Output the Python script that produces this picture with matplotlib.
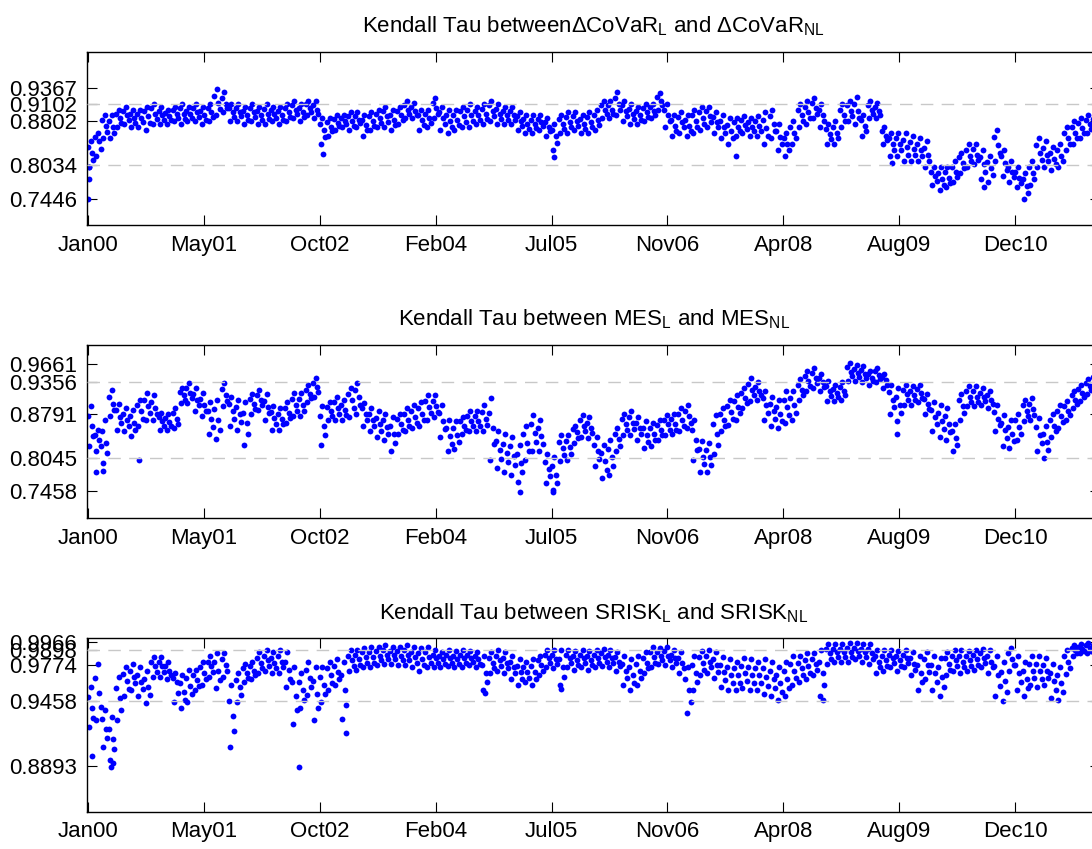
import numpy as np
import pandas as pd
import matplotlib
matplotlib.use('Agg')
from matplotlib import pyplot as plt

plt.rcParams['font.family'] = 'Liberation Sans'
plt.rcParams['mathtext.fontset'] = 'custom'
plt.rcParams['mathtext.rm'] = 'Liberation Sans'
plt.rcParams['mathtext.it'] = 'Liberation Sans'
plt.rcParams['mathtext.default'] = 'regular'

# monthly readings (x 1/1000), Jan 2000 .. Dec 2011, from the top of the cloud (hi) to its bottom (lo)
covar_hi = [845, 860, 890, 890, 900, 905, 900, 900, 905, 910, 905, 900,
            905, 910, 905, 910, 905, 910, 935, 930, 910, 910, 905, 910,
            905, 910, 905, 905, 910, 915, 910, 915, 915, 885, 885, 890,
            890, 895, 895, 890, 895, 900, 905, 900, 905, 915, 912, 900,
            900, 920, 905, 900, 900, 905, 910, 905, 910, 915, 910, 905,
            905, 895, 890, 890, 890, 885, 875, 890, 895, 895, 890, 895,
            900, 915, 915, 930, 915, 910, 905, 910, 910, 928, 910, 890,
            895, 890, 900, 905, 905, 895, 890, 885, 885, 888, 885, 888,
            895, 900, 875, 860, 880, 910, 915, 920, 910, 875, 880, 910,
            915, 922, 890, 915, 912, 870, 860, 860, 860, 855, 850, 845,
            800, 800, 800, 810, 825, 840, 840, 830, 820, 865, 830, 810,
            800, 790, 810, 850, 845, 835, 840, 870, 880, 885, 890, 890]
covar_uq = [835, 853, 882, 880, 893, 898, 893, 892, 897, 902, 898, 894,
            899, 902, 898, 903, 898, 903, 924, 920, 903, 902, 898, 903,
            898, 901, 899, 898, 903, 908, 902, 909, 908, 875, 878, 884,
            885, 888, 889, 882, 888, 893, 897, 891, 898, 908, 905, 891,
            893, 911, 895, 890, 891, 897, 900, 898, 901, 907, 901, 898,
            898, 888, 883, 882, 884, 878, 865, 883, 887, 888, 883, 887,
            891, 908, 907, 920, 907, 901, 898, 903, 904, 921, 900, 881,
            887, 881, 890, 895, 897, 887, 880, 874, 878, 881, 878, 880,
            882, 888, 863, 850, 870, 900, 905, 911, 900, 867, 870, 900,
            907, 910, 881, 908, 905, 862, 850, 850, 848, 844, 840, 834,
            792, 790, 791, 801, 817, 830, 831, 818, 809, 852, 819, 801,
            791, 779, 800, 838, 834, 825, 830, 860, 870, 877, 882, 884]
covar_mid = [825, 845, 872, 870, 885, 890, 885, 885, 888, 893, 890, 888,
             893, 893, 892, 895, 890, 895, 912, 910, 895, 895, 890, 895,
             890, 892, 892, 890, 895, 900, 895, 902, 900, 865, 870, 877,
             880, 880, 882, 873, 880, 885, 888, 882, 890, 900, 898, 882,
             885, 902, 885, 880, 882, 888, 890, 890, 892, 898, 892, 890,
             890, 880, 875, 875, 878, 870, 855, 875, 878, 880, 875, 878,
             882, 900, 900, 910, 898, 892, 890, 895, 898, 914, 890, 872,
             878, 872, 880, 885, 888, 878, 870, 862, 870, 874, 870, 872,
             868, 875, 852, 840, 860, 890, 895, 902, 890, 858, 860, 890,
             898, 898, 872, 900, 898, 855, 840, 840, 835, 832, 830, 822,
             785, 780, 782, 792, 808, 820, 822, 805, 798, 838, 808, 792,
             782, 768, 790, 825, 822, 815, 820, 850, 860, 868, 875, 878]
covar_lq = [812, 832, 861, 860, 877, 882, 877, 878, 876, 884, 882, 881,
            886, 884, 886, 887, 882, 887, 901, 902, 887, 888, 882, 887,
            882, 883, 886, 882, 887, 892, 887, 896, 892, 852, 862, 871,
            875, 872, 876, 864, 872, 877, 879, 873, 882, 892, 891, 873,
            877, 893, 875, 870, 873, 879, 880, 882, 883, 889, 883, 882,
            882, 872, 867, 868, 871, 862, 842, 867, 869, 872, 867, 869,
            873, 892, 892, 900, 889, 883, 882, 887, 891, 907, 880, 863,
            869, 863, 870, 875, 879, 869, 860, 851, 862, 867, 862, 863,
            854, 862, 841, 830, 850, 880, 885, 893, 880, 849, 850, 880,
            889, 886, 863, 892, 891, 847, 830, 830, 822, 821, 820, 811,
            777, 770, 773, 783, 799, 810, 813, 792, 786, 824, 796, 783,
            773, 756, 780, 812, 811, 805, 810, 840, 850, 859, 867, 871]
covar_lo = [800, 820, 850, 850, 870, 875, 870, 870, 865, 875, 875, 875,
            880, 875, 880, 880, 875, 880, 890, 895, 880, 880, 875, 880,
            875, 875, 880, 875, 880, 885, 880, 890, 885, 840, 855, 865,
            870, 865, 870, 855, 865, 870, 870, 865, 875, 885, 885, 865,
            870, 885, 865, 860, 865, 870, 870, 875, 875, 880, 875, 875,
            875, 865, 860, 860, 865, 855, 830, 860, 860, 865, 860, 860,
            865, 885, 885, 890, 880, 875, 875, 880, 885, 900, 870, 855,
            860, 855, 860, 865, 870, 860, 850, 840, 855, 860, 855, 855,
            840, 850, 830, 820, 840, 870, 875, 885, 870, 840, 840, 870,
            880, 875, 855, 885, 885, 840, 820, 820, 810, 810, 810, 800,
            770, 760, 765, 775, 790, 800, 805, 780, 775, 810, 785, 775,
            765, 745, 770, 800, 800, 795, 800, 830, 840, 850, 860, 865]

mes_hi = [893, 853, 870, 922, 898, 890, 887, 905, 916, 912, 882, 880,
          890, 925, 934, 925, 916, 900, 905, 934, 910, 905, 900, 915,
          922, 915, 893, 890, 900, 916, 916, 930, 942, 893, 900, 910,
          905, 925, 934, 899, 890, 885, 880, 875, 880, 890, 896, 900,
          913, 913, 895, 870, 868, 875, 885, 885, 895, 908, 850, 845,
          840, 827, 860, 879, 870, 810, 805, 844, 844, 860, 879, 875,
          840, 827, 835, 856, 880, 885, 875, 867, 865, 870, 879, 880,
          890, 896, 870, 833, 830, 879, 890, 905, 913, 925, 942, 935,
          919, 910, 905, 919, 919, 940, 955, 960, 950, 937, 930, 935,
          969, 965, 963, 955, 960, 950, 931, 925, 931, 928, 931, 915,
          900, 895, 890, 862, 915, 928, 928, 925, 920, 895, 879, 870,
          880, 905, 908, 873, 860, 880, 895, 902, 920, 930, 940, 950]
mes_uq = [877, 844, 850, 910, 887, 880, 876, 895, 905, 901, 875, 873,
          881, 918, 925, 915, 906, 886, 888, 923, 898, 892, 882, 906,
          913, 903, 883, 880, 891, 906, 906, 922, 934, 876, 892, 900,
          896, 915, 922, 890, 880, 873, 869, 860, 871, 880, 885, 890,
          902, 903, 881, 856, 856, 867, 876, 876, 883, 881, 834, 828,
          824, 811, 845, 863, 856, 797, 790, 832, 833, 854, 869, 865,
          827, 812, 820, 846, 871, 875, 865, 855, 855, 861, 870, 871,
          880, 886, 852, 819, 817, 862, 880, 894, 902, 916, 932, 927,
          907, 897, 892, 905, 907, 931, 946, 951, 942, 928, 923, 927,
          961, 958, 956, 949, 954, 944, 918, 910, 922, 920, 923, 906,
          887, 881, 876, 850, 904, 919, 919, 917, 912, 883, 865, 858,
          869, 895, 898, 858, 846, 870, 885, 894, 912, 923, 934, 944]
mes_mid = [860, 835, 830, 898, 875, 870, 865, 885, 893, 890, 868, 866,
           872, 912, 916, 905, 896, 872, 870, 913, 885, 880, 865, 897,
           905, 892, 873, 871, 882, 896, 896, 915, 926, 860, 885, 890,
           887, 905, 910, 880, 870, 862, 858, 845, 862, 870, 875, 880,
           892, 894, 868, 842, 844, 860, 868, 868, 872, 855, 818, 812,
           808, 795, 830, 847, 842, 785, 775, 821, 822, 848, 860, 856,
           815, 798, 805, 836, 862, 865, 855, 844, 845, 852, 862, 862,
           870, 876, 835, 806, 805, 845, 870, 883, 892, 908, 922, 920,
           895, 885, 880, 892, 895, 922, 937, 942, 935, 920, 916, 920,
           953, 951, 949, 943, 948, 938, 905, 896, 914, 912, 916, 898,
           875, 868, 862, 838, 893, 910, 910, 910, 905, 872, 852, 846,
           858, 886, 889, 844, 832, 860, 876, 886, 905, 916, 928, 938]
mes_lq = [842, 825, 812, 887, 864, 860, 853, 872, 881, 880, 860, 860,
          863, 905, 907, 895, 886, 858, 853, 903, 872, 866, 846, 888,
          896, 881, 863, 862, 873, 886, 886, 907, 918, 843, 877, 880,
          878, 890, 895, 870, 860, 851, 846, 830, 853, 860, 865, 870,
          881, 884, 854, 828, 832, 852, 859, 859, 861, 828, 802, 796,
          791, 779, 815, 831, 828, 772, 760, 809, 811, 839, 850, 847,
          802, 783, 790, 825, 853, 854, 845, 832, 835, 843, 853, 853,
          860, 865, 817, 793, 792, 827, 860, 872, 881, 899, 912, 912,
          882, 872, 868, 878, 882, 913, 928, 933, 927, 911, 909, 912,
          945, 944, 942, 937, 941, 931, 892, 881, 905, 904, 908, 889,
          862, 854, 848, 826, 881, 901, 901, 902, 897, 861, 838, 833,
          846, 876, 879, 829, 818, 850, 866, 878, 897, 909, 921, 931]
mes_lo = [825, 816, 795, 876, 853, 850, 841, 860, 870, 870, 853, 853,
          855, 899, 899, 885, 876, 845, 836, 893, 860, 853, 827, 880,
          887, 870, 853, 853, 865, 876, 876, 900, 910, 827, 870, 870,
          870, 875, 880, 860, 850, 840, 835, 815, 845, 850, 855, 860,
          870, 875, 840, 815, 820, 845, 850, 850, 850, 800, 786, 780,
          775, 763, 800, 815, 815, 760, 745, 798, 800, 830, 840, 838,
          790, 769, 775, 815, 844, 844, 835, 821, 825, 835, 844, 845,
          850, 855, 800, 780, 780, 810, 850, 861, 870, 890, 902, 905,
          870, 860, 856, 865, 870, 905, 919, 925, 919, 902, 902, 905,
          937, 937, 935, 931, 935, 925, 880, 867, 896, 896, 900, 880,
          850, 840, 835, 815, 870, 893, 893, 895, 890, 850, 825, 821,
          835, 867, 870, 815, 804, 840, 856, 870, 890, 902, 915, 925]

srisk_hi = [958, 978, 938, 932, 967, 975, 978, 975, 972, 984, 984, 980,
            970, 968, 973, 973, 980, 985, 987, 987, 960, 970, 978, 980,
            988, 990, 988, 990, 988, 975, 970, 980, 975, 975, 980, 982,
            980, 990, 990, 992, 993, 993, 994, 993, 993, 994, 993, 992,
            993, 990, 988, 990, 989, 990, 989, 988, 985, 988, 990, 988,
            985, 982, 980, 982, 985, 990, 990, 990, 990, 989, 990, 989,
            990, 991, 990, 988, 985, 982, 985, 988, 993, 992, 993, 990,
            988, 975, 985, 989, 990, 988, 984, 982, 980, 983, 982, 980,
            982, 980, 975, 980, 985, 985, 987, 987, 990, 995, 995, 995,
            996, 996, 995, 995, 990, 990, 990, 989, 990, 988, 985, 988,
            985, 983, 988, 990, 990, 989, 990, 991, 990, 985, 980, 992,
            985, 980, 985, 985, 983, 978, 975, 990, 994, 995, 996, 996]
srisk_uq = [949, 966, 930, 922, 957, 969, 972, 968, 965, 980, 980, 976,
            966, 961, 966, 968, 975, 980, 980, 982, 946, 964, 974, 976,
            983, 985, 983, 985, 980, 962, 962, 973, 963, 967, 974, 976,
            968, 985, 986, 988, 988, 989, 990, 989, 989, 990, 988, 987,
            988, 986, 985, 986, 985, 986, 986, 985, 977, 983, 985, 983,
            980, 976, 975, 976, 981, 986, 986, 982, 986, 985, 986, 985,
            986, 987, 986, 984, 978, 975, 978, 983, 988, 988, 989, 986,
            983, 965, 977, 984, 985, 982, 977, 975, 974, 976, 975, 974,
            974, 972, 968, 972, 978, 979, 981, 982, 980, 991, 991, 991,
            992, 992, 991, 991, 985, 985, 986, 985, 986, 983, 977, 982,
            977, 975, 983, 985, 985, 985, 986, 987, 985, 976, 971, 987,
            977, 972, 978, 978, 977, 970, 968, 985, 992, 993, 994, 994]
srisk_mid = [940, 953, 922, 913, 948, 963, 967, 962, 958, 976, 976, 972,
             962, 954, 959, 964, 970, 976, 972, 977, 933, 958, 970, 972,
             979, 981, 979, 980, 973, 950, 955, 966, 952, 960, 968, 971,
             955, 981, 982, 984, 984, 985, 986, 986, 985, 986, 984, 982,
             984, 983, 982, 983, 982, 983, 983, 982, 970, 979, 981, 979,
             975, 971, 971, 971, 977, 983, 982, 975, 983, 981, 983, 981,
             983, 984, 983, 980, 972, 968, 972, 979, 984, 985, 985, 983,
             979, 955, 970, 979, 980, 977, 971, 968, 968, 970, 968, 968,
             967, 965, 961, 965, 972, 974, 976, 978, 970, 987, 988, 988,
             988, 989, 988, 987, 980, 981, 983, 981, 983, 978, 970, 977,
             970, 967, 978, 981, 980, 981, 982, 983, 980, 968, 963, 982,
             970, 965, 972, 972, 972, 963, 961, 980, 990, 991, 992, 992]
srisk_lq = [931, 941, 914, 904, 938, 956, 961, 956, 951, 971, 971, 968,
            953, 947, 952, 959, 965, 971, 964, 972, 920, 951, 966, 968,
            974, 976, 974, 975, 965, 938, 947, 958, 940, 952, 961, 965,
            942, 976, 977, 979, 979, 981, 982, 982, 981, 981, 979, 977,
            979, 979, 978, 979, 978, 979, 980, 978, 962, 974, 976, 974,
            970, 965, 966, 965, 972, 979, 978, 967, 979, 977, 979, 977,
            979, 980, 979, 976, 966, 961, 966, 974, 979, 981, 981, 979,
            974, 945, 962, 973, 975, 971, 964, 961, 961, 963, 961, 961,
            959, 957, 954, 957, 966, 968, 970, 973, 960, 982, 984, 984,
            984, 985, 984, 982, 975, 976, 979, 976, 979, 973, 962, 971,
            962, 958, 973, 976, 975, 976, 977, 979, 975, 959, 954, 977,
            962, 957, 966, 965, 966, 955, 954, 974, 987, 989, 989, 989]
srisk_lo = [923, 929, 906, 895, 929, 950, 955, 950, 944, 967, 967, 965,
            945, 940, 945, 955, 960, 967, 957, 967, 906, 945, 962, 965,
            970, 972, 970, 970, 958, 926, 940, 951, 929, 945, 955, 960,
            930, 972, 973, 975, 975, 977, 978, 978, 977, 977, 975, 972,
            975, 975, 975, 976, 975, 975, 977, 975, 955, 970, 972, 970,
            965, 960, 962, 960, 968, 975, 974, 960, 975, 973, 975, 973,
            975, 976, 975, 972, 960, 955, 960, 970, 975, 978, 977, 975,
            970, 935, 955, 968, 970, 966, 958, 955, 955, 957, 955, 955,
            952, 950, 947, 950, 960, 962, 965, 968, 950, 978, 980, 980,
            980, 982, 980, 978, 970, 972, 975, 972, 975, 968, 955, 965,
            955, 950, 968, 972, 970, 972, 973, 975, 970, 950, 946, 972,
            955, 950, 960, 958, 960, 948, 947, 969, 985, 987, 987, 987]

# isolated points
covar_out_dates = ['2000-01-03', '2000-01-05', '2000-01-07', '2002-10-14',
                   '2005-07-12', '2007-09-10', '2009-07-15', '2010-08-20']
covar_out_vals = [0.745, 0.780, 0.800, 0.823, 0.818, 0.820, 0.807, 0.766]
mes_out_dates = ['2000-02-03', '2000-03-06', '2000-08-10', '2005-02-14',
                 '2005-07-06', '2009-08-05']
mes_out_vals = [0.780, 0.782, 0.800, 0.745, 0.748, 0.845]
srisk_out_dates = ['2000-01-20', '2000-04-10', '2000-04-20', '2002-07-03',
                   '2003-01-22', '2004-09-15', '2005-08-10', '2008-09-18']
srisk_out_vals = [0.898, 0.889, 0.892, 0.889, 0.918, 0.953, 0.956, 0.947]

covar_ticks = [0.7446, 0.8034, 0.8802, 0.9102, 0.9367]
mes_ticks = [0.7458, 0.8045, 0.8791, 0.9356, 0.9661]
srisk_ticks = [0.8893, 0.9458, 0.9774, 0.9898, 0.9966]
covar_lines = [0.8034, 0.9102]
mes_lines = [0.8045, 0.9356]
srisk_lines = [0.9458, 0.9898]

date_labels = ['Jan00', 'May01', 'Oct02', 'Feb04', 'Jul05', 'Nov06', 'Apr08', 'Aug09', 'Dec10']
titles = ['Kendall Tau between\u0394CoVaR$_L$ and \u0394CoVaR$_{NL}$',
          'Kendall Tau between MES$_L$ and MES$_{NL}$',
          'Kendall Tau between SRISK$_L$ and SRISK$_{NL}$']

months = pd.date_range('2000-01-01', periods=144, freq='MS')
tick_dates = [pd.Timestamp('2000-01-02') + pd.Timedelta(days=502 * k) for k in range(len(date_labels))]

panels = [
    ([covar_hi, covar_uq, covar_mid, covar_lq, covar_lo], covar_out_dates, covar_out_vals,
     covar_ticks, covar_lines, (0.7, 1.0)),
    ([mes_hi, mes_uq, mes_mid, mes_lq, mes_lo], mes_out_dates, mes_out_vals,
     mes_ticks, mes_lines, (0.7, 1.0)),
    ([srisk_hi, srisk_uq, srisk_mid, srisk_lq, srisk_lo], srisk_out_dates, srisk_out_vals,
     srisk_ticks, srisk_lines, (0.85, 1.0)),
]
bottoms = [0.735, 0.390, 0.044]
offsets = [12, 1, 18, 24, 6]   # day of month each reading is drawn at

fig = plt.figure(figsize=(10.92, 8.49), dpi=100)
for (series, od, ov, yt, rl, yl), b, title in zip(panels, bottoms, titles):
    ax = fig.add_axes([0.0797, b, 0.928, 0.204])
    for vals, day in zip(series, offsets):
        ax.plot(months + pd.Timedelta(days=day), np.array(vals) / 1000.0, 'o',
                color='blue', ms=4.2, mew=0)
    ax.plot(pd.to_datetime(od), ov, 'o', color='blue', ms=4.2, mew=0)
    for v in rl:
        ax.axhline(v, color='#c8c8c8', lw=1.0, dashes=(9, 6), zorder=3)
    ax.set_ylim(*yl)
    ax.set_yticks(yt)
    ax.set_yticklabels(['%.4f' % t for t in yt])
    ax.set_xticks(tick_dates)
    ax.set_xticklabels(date_labels)
    ax.set_xlim(pd.Timestamp('1999-12-28'), pd.Timestamp('2012-01-05'))
    ax.tick_params(direction='in', top=True, right=True, length=7, width=0.8,
                   labelsize=16, pad=7)
    for s in ax.spines.values():
        s.set_linewidth(1.0)
    ax.set_title(title, fontsize=16, pad=14)

plt.savefig('out.png', dpi=100)
